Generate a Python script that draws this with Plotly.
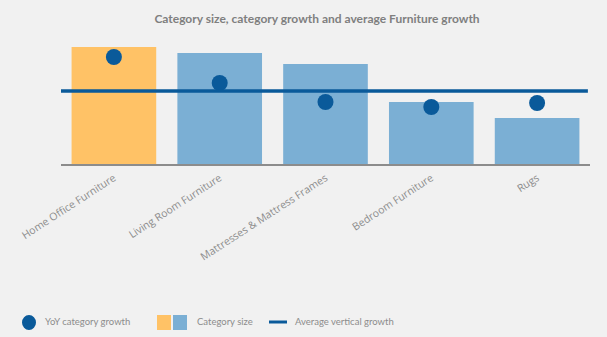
import plotly.graph_objects as go

# ---- data ----
categories = [
    "Home Office Furniture",
    "Living Room Furniture",
    "Mattresses & Mattress Frames",
    "Bedroom Furniture",
    "Rugs",
]
category_size = [117, 111, 100, 62, 46]          # category size (index)
yoy_growth = [10.7, 8.1, 6.2, 5.7, 6.1]          # YoY category growth (%)
avg_vertical_growth = 7.3                         # average Furniture growth (%)

# ---- styling ----
W, H = 607, 337
ML, MR, MT, MB = 61, 17, 40, 173
ORANGE = "#FFC266"
BLUE = "#7BAFD4"
DARK = "#0A5A9A"
GRAY_TXT = "#8C8C8C"
BG = "#F1F1F1"
FONT = "Lato"

bar_colors = [ORANGE] + [BLUE] * (len(categories) - 1)

plot_w = W - ML - MR
plot_h = H - MT - MB


def px_x(x):
    return (x - ML) / plot_w


def px_y(y):
    return (H - MB - y) / plot_h


fig = go.Figure()
fig.add_trace(go.Bar(
    x=categories, y=category_size, marker=dict(color=bar_colors, line=dict(width=0)),
    showlegend=False, hoverinfo="x+y",
))
fig.add_trace(go.Scatter(
    x=categories, y=yoy_growth, yaxis="y2", mode="markers",
    marker=dict(color=DARK, size=16), showlegend=False,
))

shapes = [
    dict(type="line", xref="paper", yref="y2", x0=0, x1=0.996,
         y0=avg_vertical_growth, y1=avg_vertical_growth,
         line=dict(color=DARK, width=3.5), layer="above"),
]

# ---- legend row ----
LEG_Y = 322.5
shapes += [
    dict(type="circle", xref="paper", yref="paper", x0=px_x(22), x1=px_x(36),
         y0=px_y(315), y1=px_y(330), fillcolor=DARK, line=dict(width=0)),
    dict(type="rect", xref="paper", yref="paper", x0=px_x(157), x1=px_x(171),
         y0=px_y(315), y1=px_y(330), fillcolor=ORANGE, line=dict(width=0)),
    dict(type="rect", xref="paper", yref="paper", x0=px_x(173), x1=px_x(187),
         y0=px_y(315), y1=px_y(330), fillcolor=BLUE, line=dict(width=0)),
    dict(type="line", xref="paper", yref="paper", x0=px_x(269), x1=px_x(287),
         y0=px_y(322), y1=px_y(322), line=dict(color=DARK, width=3)),
]
legend_text = [(43, "YoY category growth"), (195, "Category size"), (293, "Average vertical growth")]
annotations = [
    dict(xref="paper", yref="paper", x=px_x(x), y=px_y(LEG_Y - 1), text=t,
         showarrow=False, xanchor="left", yanchor="middle",
         font=dict(family=FONT, size=9.5, color=GRAY_TXT))
    for x, t in legend_text
]

fig.update_layout(
    width=W, height=H,
    margin=dict(l=ML, r=MR, t=MT, b=MB, pad=0),
    paper_bgcolor=BG, plot_bgcolor=BG,
    bargap=0.2,
    title=dict(text="<b>Category size, category growth and average Furniture growth</b>",
               xref="container", x=317 / W, xanchor="center",
               y=1 - 19 / H, yanchor="middle",
               font=dict(family=FONT, size=12, color="#7F7F7F")),
    xaxis=dict(showline=True, linecolor="#8C8C8C", linewidth=2, showgrid=False,
               ticks="", tickangle=-33, ticklabelstandoff=2,
               tickfont=dict(family="Open Sans", size=10.5, color=GRAY_TXT)),
    yaxis=dict(range=[0, 124], visible=False, showgrid=False),
    yaxis2=dict(range=[0, 12.4], overlaying="y", visible=False, showgrid=False),
    shapes=shapes, annotations=annotations,
    showlegend=False,
)

fig.write_html("out.html")
